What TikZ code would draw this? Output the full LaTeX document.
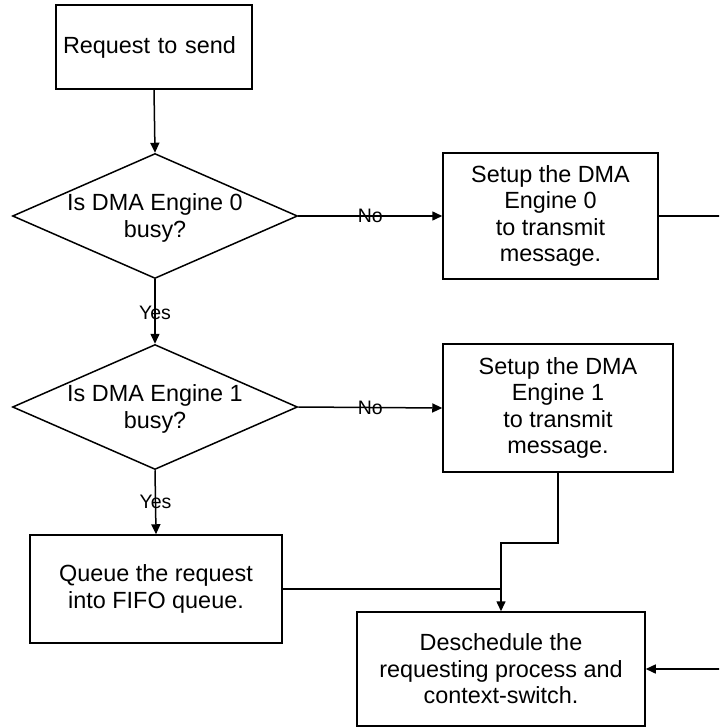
\documentclass[tikz,border=0pt]{standalone}
\usepackage{fontspec}
\setmainfont{Liberation Sans}
\usetikzlibrary{shapes.geometric,arrows.meta}
\begin{document}
\begin{tikzpicture}[x=1pt,y=-1pt,
  every node/.style={font=\fontsize{23.4}{26.5}\selectfont},
  procbox/.style={draw,line width=1.5pt,rectangle,inner sep=0pt,align=center},
  decision/.style={draw,line width=1.5pt,diamond,inner sep=0pt,minimum width=285pt,minimum height=125pt},
  qtext/.style={align=center,inner sep=0pt},
  flow/.style={line width=1.5pt,-{Triangle[length=10pt,width=9pt]}},
  link/.style={line width=1.5pt},
  branch/.style={font=\fontsize{19.5}{22}\selectfont,inner sep=0pt}]
\clip (0,0) rectangle (719,727);
\fill[white] (0,0) rectangle (719,727);

% process boxes
\node[procbox,minimum width=196pt,minimum height=84pt,text width=182pt,align=left] (req) at (154,47) {Request to send};
\node[procbox,minimum width=215pt,minimum height=126pt] (dma0) at (550.5,216) {Setup the DMA\\Engine 0\\to transmit\\message.};
\node[procbox,minimum width=230pt,minimum height=128pt] (dma1) at (558,408) {Setup the DMA\\Engine 1\\to transmit\\message.};
\node[procbox,minimum width=252pt,minimum height=108pt] (queue) at (156,589) {Queue the request\\into FIFO queue.};
\node[procbox,minimum width=288pt,minimum height=114pt] (desch) at (501,669) {Deschedule the\\requesting process and\\context-switch.};

% decisions
\node[decision] (busy0) at (155,216) {};
\node[qtext] (busy0t) at (155,218) {Is DMA Engine 0\\busy?};
\node[decision] (busy1) at (155,407) {};
\node[qtext] (busy1t) at (155,409) {Is DMA Engine 1\\busy?};

% connectors
\draw[flow] (req.south) -- (busy0.north);
\draw[flow] (busy0.east) -- node[branch,pos=0.5] {No} (dma0.west);
\draw[flow] (busy0.south) -- node[branch,pos=0.52] {Yes} (busy1.north);
\draw[flow] (busy1.east) -- node[branch,pos=0.5] {No} (dma1.west);
\draw[flow] (busy1.south) -- node[branch,pos=0.5] {Yes} (queue.north);
\draw[flow] (dma1.south) -- ++(0,70) -| (desch.north);
\coordinate (join) at (queue.east -| desch.north);
\draw[link] (queue.east) -- (join);
\draw[flow] (dma0.east) -- ++(90,0) |- (desch.east);
\end{tikzpicture}
\end{document}
